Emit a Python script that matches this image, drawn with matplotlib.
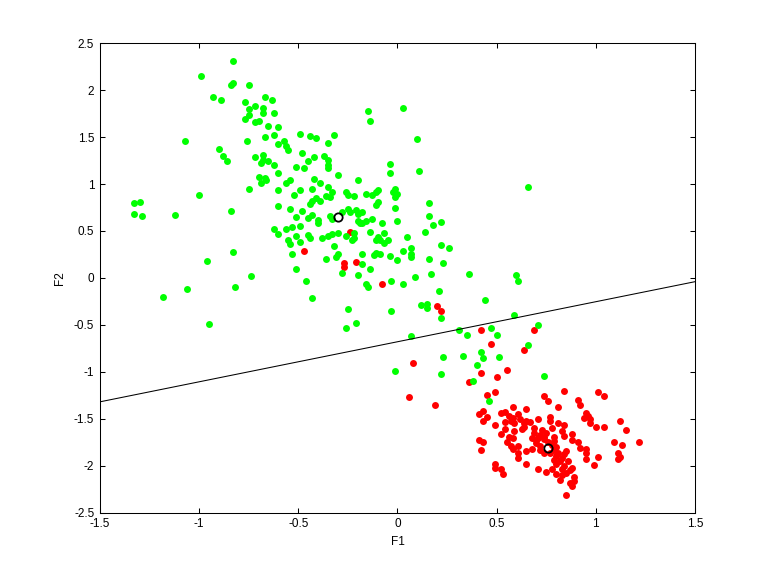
import matplotlib
matplotlib.use("Agg")
import matplotlib.pyplot as plt

# ── Data ──────────────────────────────────────────────────────────────────────

green_x = [
    -0.83, -0.99, -0.83, -0.84, -0.75, -0.93, -0.89, -0.77, -0.67, -0.63,
    -0.72, -0.68, -0.75, -0.68, -0.62, -0.75, -0.77, -0.72, -0.70, -0.65,
    -0.60, -1.07, -0.76, -0.67, -0.62, -0.60, -0.90, -0.88, -0.86, -0.72,
    -0.68, -0.68, -0.65, -0.69, -0.62,
    -0.57, -0.56, -0.55, -0.49, -0.44, -0.41, -0.32, -0.35, -0.48, -0.45,
    -0.42, -0.37, -0.35, -0.35, -0.35, -0.51, -0.47, -0.15, -0.14, 0.03,
    0.10, -0.04, 0.11,
    0.66, -0.70, -0.67, -0.69, -0.665, -0.60, -0.75, -0.60, -1.00, -1.33,
    -1.30, -1.33, -1.29, -1.12, -0.84, -0.60, -0.62, -0.60, -0.83, -0.96,
    -0.74, -0.82, -1.06, -1.18, -0.95,
    -0.30, -0.20, -0.04, -0.54, -0.56, -0.42, -0.39, -0.49, -0.43, -0.52,
    -0.35, -0.33, -0.36, -0.34, -0.26, -0.25, -0.22, -0.16, -0.11, -0.10,
    -0.13, -0.01, -0.02, 0.00, -0.01, -0.41, -0.43, -0.44, -0.39, -0.54,
    -0.48, -0.10, -0.11, -0.01, 0.16, -0.51, -0.45, -0.43, -0.40, -0.34,
    -0.33, -0.28, -0.25, -0.24, -0.21, -0.20, -0.18, -0.20, -0.18, -0.16,
    -0.13, -0.19, -0.08, 0.00, 0.16, -0.56, -0.53, -0.49, -0.40, -0.14,
    -0.07, -0.10, -0.09, -0.11, -0.05, -0.07, -0.51, -0.45, -0.44, -0.38,
    -0.35, -0.33, -0.30, -0.26, -0.22, -0.22, -0.23, 0.05, -0.55, -0.54,
    -0.49, -0.32, -0.53, -0.36, -0.31, -0.30, -0.18, -0.12, -0.11, -0.09,
    -0.04, 0.00, 0.03, 0.07, 0.07, 0.07, -0.18, -0.51, -0.28, -0.20,
    -0.14, 0.09,
    0.18, 0.22, 0.14, 0.22, 0.26, 0.16, 0.23, 0.17, 0.36, 0.60,
    0.61, 0.21, 0.44, 0.12, 0.15, 0.15, 0.22, 0.59,
    -0.46, -0.16, -0.15, -0.03, 0.03, -0.43, -0.25, -0.03, -0.21, -0.26,
    0.07, -0.01,
    0.31, 0.35, 0.47, 0.50, 0.71, 0.66, 0.23, 0.33, 0.42, 0.43,
    0.51, 0.40, 0.22, 0.38, 0.74, 0.46,
]
green_y = [
    2.31, 2.15, 2.08, 2.05, 2.06, 1.93, 1.89, 1.87, 1.93, 1.89,
    1.83, 1.81, 1.80, 1.76, 1.76, 1.74, 1.69, 1.66, 1.67, 1.62,
    1.61, 1.46, 1.46, 1.50, 1.52, 1.43, 1.37, 1.30, 1.24, 1.29,
    1.31, 1.26, 1.24, 1.22, 1.20,
    1.46, 1.40, 1.36, 1.53, 1.51, 1.49, 1.52, 1.44, 1.33, 1.25,
    1.29, 1.30, 1.26, 1.20, 1.17, 1.18, 1.17, 1.78, 1.67, 1.81,
    1.48, 1.21, 1.14,
    0.97, 1.08, 1.06, 1.01, 1.04, 1.12, 0.95, 0.94, 0.88, 0.80,
    0.81, 0.68, 0.66, 0.67, 0.71, 0.77, 0.52, 0.47, 0.28, 0.18,
    0.02, -0.10, -0.12, -0.20, -0.49,
    1.10, 1.04, 1.12, 1.04, 1.01, 1.05, 1.01, 0.94, 0.95, 0.88,
    0.97, 0.92, 0.87, 0.86, 0.91, 0.88, 0.87, 0.89, 0.91, 0.94,
    0.88, 0.95, 0.91, 0.89, 0.86, 0.85, 0.82, 0.79, 0.82, 0.73,
    0.71, 0.81, 0.78, 0.75, 0.80, 0.65, 0.64, 0.67, 0.62, 0.66,
    0.63, 0.70, 0.73, 0.70, 0.72, 0.68, 0.70, 0.61, 0.59, 0.61,
    0.63, 0.58, 0.58, 0.61, 0.66, 0.52, 0.54, 0.55, 0.58, 0.49,
    0.48, 0.44, 0.40, 0.40, 0.40, 0.37, 0.45, 0.46, 0.43, 0.43,
    0.45, 0.47, 0.48, 0.45, 0.48, 0.43, 0.40, 0.44, 0.40, 0.36,
    0.38, 0.34, 0.26, 0.20, 0.22, 0.26, 0.26, 0.24, 0.27, 0.26,
    0.23, 0.19, 0.29, 0.32, 0.26, 0.22, 0.15, 0.10, 0.05, 0.03,
    0.09, 0.01,
    0.56, 0.60, 0.49, 0.35, 0.32, 0.20, 0.16, 0.04, 0.04, 0.03,
    -0.03, -0.14, -0.24, -0.29, -0.28, -0.32, -0.43, -0.39,
    -0.03, -0.06, -0.10, -0.03, -0.07, -0.21, -0.33, -0.35, -0.48, -0.53,
    -0.62, -0.99,
    -0.55, -0.61, -0.53, -0.61, -0.50, -0.71, -0.84, -0.83, -0.79, -0.85,
    -0.84, -0.93, -1.02, -1.10, -1.04, -1.31,
]

red_x = [
    -0.24, -0.47, -0.27, -0.27, -0.21, 0.20, 0.22, -0.08, 0.08, 0.42,
    0.69, 0.47, 0.64, 0.42, 0.55, 0.50, 0.36, 0.06, 0.19, 0.45,
    0.49, 0.74, 0.76,
    0.52, 0.54, 0.58, 0.56, 0.61, 0.65, 0.41, 0.43, 0.45, 0.43,
    0.49, 0.54, 0.57, 0.58, 0.59, 0.62, 0.64, 0.65, 0.54, 0.52,
    0.59, 0.63, 0.64, 0.41, 0.43, 0.56, 0.58, 0.55, 0.57, 0.58,
    0.61, 0.42, 0.61, 0.61, 0.65, 0.65, 0.49, 0.49, 0.52, 0.53,
    0.84, 1.01, 1.04, 0.91, 0.92, 0.81, 0.95, 0.96, 0.94, 0.97,
    0.97, 1.12, 1.15, 1.00, 1.04, 0.77, 0.77, 0.71, 0.67, 0.81,
    0.84, 0.78, 0.83, 0.88, 0.84, 0.79, 0.88, 0.69, 0.73, 0.69,
    0.71, 0.68, 0.74, 0.70, 0.72, 0.68, 0.72, 0.74, 0.79, 0.80,
    0.83, 0.82, 0.79, 0.85, 0.91, 0.92, 0.95, 0.95, 0.95, 1.01,
    0.99, 1.09, 1.13, 1.22, 1.11, 1.12, 1.11, 0.71, 0.75, 0.78,
    0.80, 0.83, 0.85, 0.88, 0.89, 0.82, 0.87, 0.88, 0.89, 0.85,
    0.74, 0.76, 0.78, 0.80, 0.77, 0.81, 0.84, 0.86, 0.84, 0.87,
    0.80, 0.83, 0.79, 0.72, 0.75, 0.70,
]
red_y = [
    0.49, 0.29, 0.16, 0.12, 0.17, -0.30, -0.35, -0.06, -0.91, -0.56,
    -0.56, -0.70, -0.77, -1.01, -0.98, -1.05, -1.11, -1.27, -1.35, -1.25,
    -1.22, -1.26, -1.31,
    -1.44, -1.43, -1.38, -1.47, -1.45, -1.40, -1.45, -1.42, -1.48, -1.52,
    -1.57, -1.53, -1.52, -1.49, -1.55, -1.50, -1.54, -1.52, -1.61, -1.66,
    -1.63, -1.61, -1.59, -1.73, -1.75, -1.69, -1.70, -1.75, -1.79, -1.82,
    -1.79, -1.83, -1.86, -1.92, -1.84, -1.98, -1.98, -2.02, -2.04, -2.09,
    -1.20, -1.21, -1.26, -1.30, -1.35, -1.38, -1.44, -1.47, -1.49, -1.50,
    -1.55, -1.52, -1.62, -1.59, -1.59, -1.48, -1.52, -1.50, -1.53, -1.55,
    -1.57, -1.60, -1.63, -1.66, -1.68, -1.69, -1.73, -1.60, -1.62, -1.65,
    -1.70, -1.71, -1.69, -1.76, -1.79, -1.82, -1.83, -1.87, -1.83, -1.90,
    -1.92, -1.95, -1.94, -1.84, -1.75, -1.81, -1.82, -1.87, -1.93, -1.91,
    -1.99, -1.75, -1.78, -1.75, -1.86, -1.91, -1.93, -2.04, -2.07, -2.03,
    -2.09, -2.10, -2.08, -2.02, -2.12, -2.15, -2.18, -2.22, -2.16, -2.31,
    -1.72, -1.75, -1.78, -1.80, -1.86, -1.87, -1.88, -1.95, -2.00, -2.05,
    -1.98, -2.03, -1.74, -1.67, -1.65, -1.73,
]

centroid_x = [-0.30, 0.76]
centroid_y = [0.65, -1.81]

boundary_x = [-1.5, 1.5]
boundary_y = [-1.32, -0.04]

x_ticks = [-1.5, -1, -0.5, 0, 0.5, 1, 1.5]
y_ticks = [-2.5, -2, -1.5, -1, -0.5, 0, 0.5, 1, 1.5, 2, 2.5]

# ── Figure ────────────────────────────────────────────────────────────────────

plt.rcParams["font.family"] = ["Liberation Sans", "DejaVu Sans"]
plt.rcParams["axes.unicode_minus"] = False

fig = plt.figure(figsize=(7.68, 5.76), dpi=100)
ax = fig.add_axes([0.13, 0.11, 0.775, 0.815])

ax.plot(red_x, red_y, "o", color="#ff0000", ms=5, mew=0, zorder=2)
ax.plot(green_x, green_y, "o", color="#00ff00", ms=5, mew=0, zorder=3)
ax.plot(centroid_x, centroid_y, "o", mfc="none", mec="black", ms=6, mew=1.3, zorder=4)
ax.plot(boundary_x, boundary_y, color="black", lw=0.75, zorder=4)

ax.set_xlim(-1.5, 1.5)
ax.set_ylim(-2.5, 2.5)
ax.set_xticks(x_ticks)
ax.set_yticks(y_ticks)
ax.set_xticklabels([f"{t:g}" for t in x_ticks])
ax.set_yticklabels([f"{t:g}" for t in y_ticks])
ax.tick_params(direction="in", length=3.6, width=0.75, labelsize=8.5, pad=4,
               top=True, right=True)
for sp in ax.spines.values():
    sp.set_linewidth(0.75)

ax.set_xlabel("F1", fontsize=8.5, labelpad=4)
ax.set_ylabel("F2", fontsize=8.5, labelpad=6)

fig.savefig("out.png", dpi=100)
